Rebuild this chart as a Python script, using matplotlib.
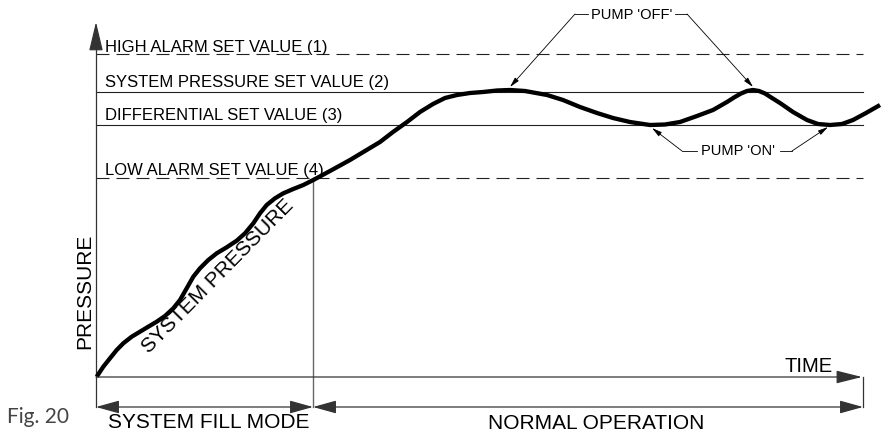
import matplotlib
matplotlib.use('Agg')
import matplotlib.pyplot as plt

plt.rcParams['font.family'] = ['Liberation Sans', 'DejaVu Sans']

# set values (pressure units, 0 = time axis)
levels = [323, 285, 252, 199]
level_names = ['HIGH ALARM SET VALUE (1)', 'SYSTEM PRESSURE SET VALUE (2)',
               'DIFFERENTIAL SET VALUE (3)', 'LOW ALARM SET VALUE (4)']
level_dashed = [True, False, False, True]
label_gap = [2, 5, 5, 3]

fill_end = 217
time_end = 767

# system pressure curve
t = [0.7, 7.3, 14, 20.7, 27.3, 35.7, 44, 52.3, 60.7, 69, 77.3, 84, 90.7, 97.3,
     104, 112.3, 120.7, 130.7, 140.7, 149, 157.3, 164, 170.7, 179, 187.3, 197.3,
     207.3, 217.3, 234, 254, 269, 284, 297, 311, 324, 337, 349, 361, 374, 387,
     401, 414, 429, 451, 467, 484, 501, 517, 534, 554, 569, 584, 601, 617, 631,
     638, 645, 651, 657, 663, 669, 676, 684, 697, 711, 722, 734, 746, 757, 770, 784]
p = [0.3, 10.3, 18.7, 27, 33.7, 40.3, 45.3, 50.3, 55.3, 61, 68.7, 77, 88.7, 100.3,
     108.7, 117, 123.7, 129.7, 136.3, 143.7, 153.7, 163.7, 172, 178.7, 183.7, 188,
     192, 197, 206, 217, 226, 235, 245, 255, 265, 273, 279, 282, 284, 285,
     286.5, 287, 286, 282, 277, 270, 264, 259, 255, 252, 252.5, 255, 261, 267, 275,
     279.5, 283.5, 286, 287, 286, 283.5, 279, 274, 265, 257, 253, 252, 253, 257, 264, 272]

fig = plt.figure(figsize=(8.86, 4.33), dpi=100)
ax = fig.add_axes([0, 0, 1, 1])
ax.set_xlim(-96, 790)
ax.set_ylim(-56, 377)
ax.axis('off')

line_c = '#222222'

# set value lines and labels
for lv, name, dashed, gap in zip(levels, level_names, level_dashed, label_gap):
    ls = (0, (11.7, 6.3)) if dashed else '-'
    ax.plot([0, time_end], [lv, lv], color=line_c, lw=0.8, ls=ls)
    ax.text(9, lv + gap, name, fontsize=12, va='baseline', ha='left')


def arrow(tip, tail, hl, hw, lw=0.9, color='#333333', style='-|>'):
    ax.annotate('', xy=tip, xytext=tail,
                arrowprops=dict(arrowstyle=f'{style},head_length={hl},head_width={hw}',
                                mutation_scale=1, shrinkA=0, shrinkB=0,
                                lw=lw, color=color))


# axes
ax.plot([0, 0], [-30, 340], color='#333333', lw=0.9)
arrow((0, 355), (0, 330), 18, 4.3)
arrow((766, 0), (0, 0), 16, 4)
ax.plot([time_end, time_end], [0, -30], color='#333333', lw=0.9)
ax.plot([fill_end, fill_end], [levels[3], -30], color='#666666', lw=1)

# dimension arrows
arrow((0, -30), (fill_end, -30), 14.4, 4, style='<|-|>')
arrow((time_end, -30), (fill_end, -30), 14.4, 4, style='<|-|>')

# curve
ax.plot(t, p, color='black', lw=3.1, solid_capstyle='butt', solid_joinstyle='round')

# pump annotations
thin = dict(color='black', lw=0.6)
ax.text(536, 362, "PUMP 'OFF'", fontsize=10.5, ha='center', va='center')
ax.plot([492, 479], [363, 363], **thin)
arrow((414, 290), (479, 363), 6, 1.5, lw=0.6, color='black')
ax.plot([579, 591], [363, 363], **thin)
arrow((657, 290), (591, 363), 6, 1.5, lw=0.6, color='black')

ax.text(642, 226, "PUMP 'ON'", fontsize=10.5, ha='center', va='center')
ax.plot([601, 586], [226, 226], **thin)
arrow((556, 249), (586, 226), 6, 1.5, lw=0.6, color='black')
ax.plot([684, 696], [226, 226], **thin)
arrow((732, 250), (696, 226), 6, 1.5, lw=0.6, color='black')

# axis titles
ax.text(689, 5, 'TIME', fontsize=14.5, ha='left', va='baseline')
ax.text(-11, 86, 'PRESSURE', fontsize=15, rotation=90, ha='center', va='center')
ax.text(122, 101, 'SYSTEM PRESSURE', fontsize=15, rotation=45.4,
        ha='center', va='center', rotation_mode='anchor')
ax.text(113, -51, 'SYSTEM FILL MODE', fontsize=15, ha='center', va='baseline')
ax.text(500, -52, 'NORMAL OPERATION', fontsize=15, ha='center', va='baseline')
ax.text(-89, -46, 'Fig. 20', fontsize=15, ha='left', va='baseline',
        color='#444444', family=['Lato', 'DejaVu Sans'])

fig.savefig('out.png', dpi=100)
